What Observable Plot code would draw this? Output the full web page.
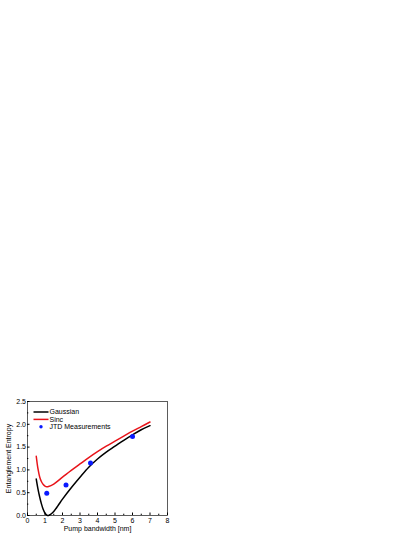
<!DOCTYPE html>
<html>
<head>
<meta charset="utf-8">
<script src="https://cdn.jsdelivr.net/npm/d3@7"></script>
<script src="https://cdn.jsdelivr.net/npm/@observablehq/plot@0.6"></script>
<style>
  html, body { margin: 0; padding: 0; background: #fff; }
  #chart svg { display: block; }
</style>
</head>
<body>
<div id="chart"></div>
<script>
// Gaussian curve
const gaussX = [0.5, 0.6, 0.7, 0.8, 0.9, 1.0, 1.1, 1.2, 1.3, 1.5, 1.75, 2.0, 2.5, 3.0, 3.5, 4.0, 4.5, 5.0, 5.5, 6.0, 6.5, 7.0];
const gaussY = [0.80, 0.58, 0.40, 0.25, 0.13, 0.05, 0.01, 0.00, 0.02, 0.09, 0.22, 0.36, 0.61, 0.84, 1.06, 1.24, 1.39, 1.52, 1.65, 1.77, 1.88, 1.97];
// Sinc curve
const sincX = [0.5, 0.6, 0.7, 0.8, 0.9, 1.0, 1.1, 1.2, 1.5, 2.0, 2.5, 3.0, 3.5, 4.0, 4.5, 5.0, 5.5, 6.0, 6.5, 7.0];
const sincY = [1.30, 1.02, 0.84, 0.74, 0.68, 0.645, 0.63, 0.635, 0.69, 0.84, 0.99, 1.13, 1.27, 1.40, 1.52, 1.63, 1.74, 1.85, 1.95, 2.05];
// JTD measurements
const jtdX = [1.1, 2.2, 3.6, 6.0];
const jtdY = [0.49, 0.67, 1.15, 1.73];
// Axis ticks
const xTicks = [0, 1, 2, 3, 4, 5, 6, 7, 8];
const xMinor = [0.5, 1.5, 2.5, 3.5, 4.5, 5.5, 6.5, 7.5];
const yTicks = [0, 0.5, 1.0, 1.5, 2.0, 2.5];
const yMinor = [0.25, 0.75, 1.25, 1.75, 2.25];
// Legend
const legendLabels = ["Gaussian", "Sinc", "JTD Measurements"];
const legendKinds = ["line", "line", "dot"];
const legendColors = ["#000000", "#e8141a", "#0a1aff"];

const gauss = gaussX.map((x, i) => ({x, y: gaussY[i]}));
const sinc = sincX.map((x, i) => ({x, y: sincY[i]}));
const jtd = jtdX.map((x, i) => ({x, y: jtdY[i]}));

const font = "Liberation Sans, Arial, sans-serif";

const chart = Plot.plot({
  width: 415,
  height: 537,
  marginLeft: 27,
  marginRight: 248,
  marginTop: 401,
  marginBottom: 22,
  style: {fontFamily: font, fontSize: "7px", color: "#000", background: "#fff"},
  x: {domain: [0, 8]},
  y: {domain: [0, 2.5]},
  marks: [
    Plot.frame({stroke: "#333", strokeWidth: 0.8}),
    Plot.axisX({ticks: xTicks, tickSize: -2.5, tickPadding: 5, tickFormat: d => d3.format("d")(d), label: "Pump bandwidth [nm]", labelAnchor: "center", labelOffset: 15, labelArrow: "none", fontSize: 7}),
    Plot.axisX({ticks: xMinor, tickSize: -1.3, tickFormat: () => "", label: null}),
    Plot.axisY({ticks: yTicks, tickSize: -2.5, tickPadding: 4, tickFormat: d3.format(".1f"), label: "Entanglement Entropy", labelAnchor: "center", labelOffset: 21, labelArrow: "none", fontSize: 7}),
    Plot.axisY({ticks: yMinor, tickSize: -1.3, tickFormat: () => "", label: null}),
    Plot.line(gauss, {x: "x", y: "y", curve: "catmull-rom", stroke: legendColors[0], strokeWidth: 1.5}),
    Plot.line(sinc, {x: "x", y: "y", curve: "catmull-rom", stroke: legendColors[1], strokeWidth: 1.5}),
    Plot.dot(jtd, {x: "x", y: "y", r: 2.5, fill: legendColors[2], stroke: "none"})
  ]
});
document.getElementById("chart").appendChild(chart);

// Legend inside the frame, top-left, placed relative to the plot's frame
const xRange = chart.scale("x").range;
const yRange = chart.scale("y").range;
const frameLeft = Math.min(...xRange), frameTop = Math.min(...yRange);
const lg = d3.select(chart).append("g")
  .attr("font-family", font).attr("font-size", 7).attr("text-anchor", "start");
legendLabels.forEach((label, i) => {
  const cy = frameTop + 11 + i * 7.4;
  if (legendKinds[i] === "line") {
    lg.append("line").attr("x1", frameLeft + 6.5).attr("x2", frameLeft + 21.5)
      .attr("y1", cy).attr("y2", cy)
      .attr("stroke", legendColors[i]).attr("stroke-width", 1.5);
  } else {
    lg.append("circle").attr("cx", frameLeft + 14).attr("cy", cy).attr("r", 1.7)
      .attr("fill", legendColors[i]);
  }
  lg.append("text").attr("x", frameLeft + 22.5).attr("y", cy).attr("dy", "0.35em")
    .attr("text-anchor", "start").attr("fill", "#000").text(label);
});
</script>
</body>
</html>
